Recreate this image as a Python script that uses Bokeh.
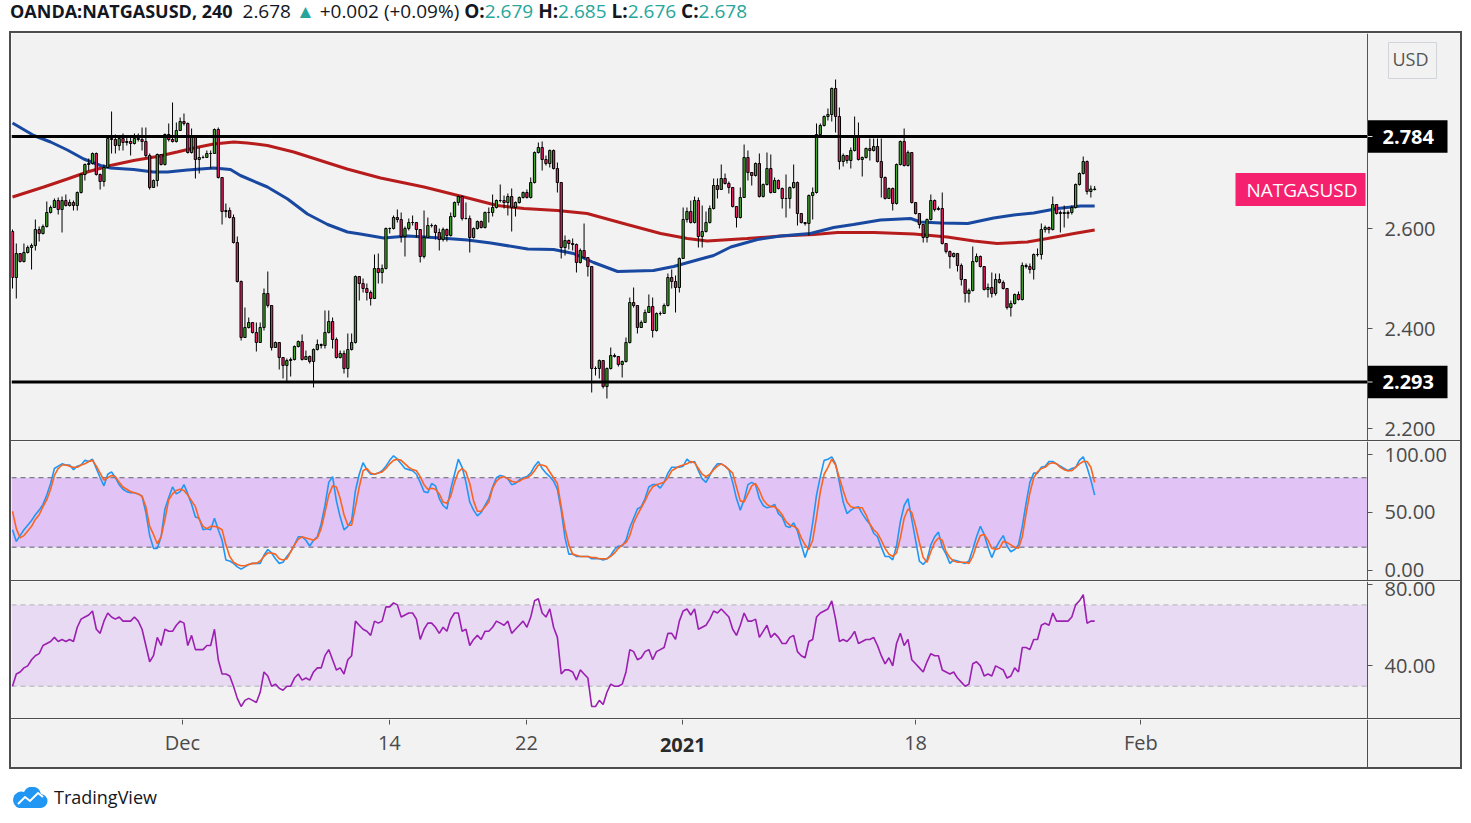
from bokeh.plotting import figure
from bokeh.models import (Range1d, FixedTicker, PrintfTickFormatter, BoxAnnotation, Span,
                          Label, Div, ColumnDataSource)
from bokeh.core.properties import value
from bokeh.layouts import column, row
from bokeh.embed import file_html
from bokeh.resources import INLINE

FONT = "Open Sans"
BG = "#f2f2f2"
BORDER = "#4d4d4d"
AXIS_TXT = "#4a4a4a"
UP_COLOR = "#43a72c"
DOWN_COLOR = "#e91e63"

# ---------------- data (4h bars, index 0 = first visible bar) ----------------
FIRST_OPEN = 2.594
CLOSE = [
    2.502, 2.550, 2.534, 2.552, 2.562, 2.566, 2.598, 2.590, 2.604, 2.632,
    2.642, 2.656, 2.638, 2.656, 2.646, 2.652, 2.646, 2.672, 2.708, 2.728,
    2.730, 2.750, 2.708, 2.694, 2.722, 2.780, 2.778, 2.766, 2.780, 2.772,
    2.774, 2.770, 2.780, 2.778, 2.774, 2.746, 2.682, 2.696, 2.748, 2.728,
    2.788, 2.778, 2.774, 2.796, 2.814, 2.810, 2.752, 2.782, 2.738, 2.742,
    2.742, 2.750, 2.750, 2.798, 2.702, 2.634, 2.636, 2.622, 2.572, 2.494,
    2.382, 2.402, 2.412, 2.392, 2.372, 2.402, 2.470, 2.446, 2.362, 2.372,
    2.342, 2.326, 2.336, 2.338, 2.364, 2.374, 2.338, 2.344, 2.334, 2.358,
    2.368, 2.366, 2.392, 2.414, 2.378, 2.342, 2.350, 2.320, 2.358, 2.372,
    2.504, 2.490, 2.480, 2.472, 2.460, 2.520, 2.512, 2.520, 2.600, 2.600,
    2.622, 2.618, 2.584, 2.600, 2.612, 2.612, 2.598, 2.544, 2.582, 2.606,
    2.606, 2.592, 2.578, 2.598, 2.586, 2.624, 2.652, 2.664, 2.620, 2.620,
    2.582, 2.600, 2.614, 2.602, 2.632, 2.632, 2.642, 2.656, 2.656, 2.652,
    2.664, 2.642, 2.652, 2.662, 2.672, 2.662, 2.692, 2.752, 2.762, 2.738,
    2.730, 2.756, 2.720, 2.692, 2.562, 2.576, 2.570, 2.568, 2.532, 2.556,
    2.542, 2.524, 2.320, 2.320, 2.336, 2.284, 2.320, 2.346, 2.344, 2.328,
    2.334, 2.372, 2.452, 2.446, 2.402, 2.412, 2.432, 2.444, 2.396, 2.430,
    2.430, 2.446, 2.502, 2.494, 2.482, 2.540, 2.618, 2.634, 2.612, 2.656,
    2.584, 2.594, 2.612, 2.640, 2.686, 2.678, 2.700, 2.690, 2.682, 2.644,
    2.622, 2.662, 2.742, 2.712, 2.706, 2.730, 2.664, 2.688, 2.720, 2.672,
    2.696, 2.680, 2.660, 2.660, 2.682, 2.692, 2.630, 2.612, 2.610, 2.666,
    2.672, 2.788, 2.806, 2.824, 2.828, 2.880, 2.824, 2.734, 2.746, 2.736,
    2.756, 2.782, 2.738, 2.742, 2.760, 2.756, 2.764, 2.734, 2.702, 2.660,
    2.680, 2.650, 2.728, 2.774, 2.726, 2.752, 2.652, 2.630, 2.608, 2.582,
    2.618, 2.656, 2.638, 2.640, 2.570, 2.554, 2.544, 2.550, 2.526, 2.498,
    2.470, 2.476, 2.534, 2.544, 2.524, 2.478, 2.482, 2.470, 2.498, 2.492,
    2.480, 2.442, 2.450, 2.468, 2.458, 2.526, 2.524, 2.518, 2.548, 2.548,
    2.598, 2.602, 2.598, 2.648, 2.630, 2.632, 2.630, 2.632, 2.642, 2.688,
    2.710, 2.734, 2.674, 2.679, 2.678,
]
HIGH = [
    2.598, 2.570, 2.550, 2.570, 2.566, 2.570, 2.618, 2.604, 2.608, 2.654,
    2.646, 2.660, 2.662, 2.664, 2.668, 2.658, 2.656, 2.674, 2.710, 2.730,
    2.740, 2.752, 2.752, 2.710, 2.728, 2.786, 2.834, 2.788, 2.786, 2.790,
    2.786, 2.784, 2.790, 2.790, 2.802, 2.802, 2.750, 2.698, 2.750, 2.748,
    2.790, 2.810, 2.852, 2.812, 2.822, 2.830, 2.812, 2.800, 2.782, 2.762,
    2.746, 2.756, 2.756, 2.800, 2.802, 2.702, 2.650, 2.642, 2.628, 2.584,
    2.496, 2.442, 2.422, 2.412, 2.412, 2.412, 2.480, 2.514, 2.446, 2.374,
    2.372, 2.342, 2.340, 2.342, 2.366, 2.376, 2.388, 2.356, 2.346, 2.360,
    2.378, 2.370, 2.436, 2.436, 2.422, 2.382, 2.356, 2.356, 2.390, 2.390,
    2.506, 2.504, 2.500, 2.490, 2.476, 2.548, 2.550, 2.528, 2.602, 2.602,
    2.626, 2.638, 2.632, 2.604, 2.620, 2.626, 2.612, 2.598, 2.636, 2.622,
    2.610, 2.608, 2.600, 2.602, 2.600, 2.632, 2.654, 2.666, 2.666, 2.652,
    2.626, 2.602, 2.616, 2.616, 2.634, 2.642, 2.668, 2.658, 2.688, 2.666,
    2.670, 2.680, 2.654, 2.664, 2.674, 2.678, 2.702, 2.754, 2.772, 2.774,
    2.746, 2.758, 2.758, 2.732, 2.692, 2.586, 2.578, 2.580, 2.570, 2.560,
    2.610, 2.542, 2.524, 2.324, 2.338, 2.336, 2.322, 2.362, 2.350, 2.344,
    2.336, 2.382, 2.462, 2.482, 2.446, 2.416, 2.438, 2.468, 2.462, 2.432,
    2.434, 2.450, 2.510, 2.518, 2.506, 2.542, 2.642, 2.642, 2.656, 2.664,
    2.662, 2.646, 2.634, 2.646, 2.700, 2.700, 2.728, 2.710, 2.694, 2.682,
    2.644, 2.682, 2.768, 2.756, 2.712, 2.732, 2.750, 2.690, 2.752, 2.748,
    2.702, 2.698, 2.682, 2.708, 2.684, 2.728, 2.694, 2.630, 2.612, 2.668,
    2.682, 2.810, 2.810, 2.826, 2.840, 2.882, 2.898, 2.842, 2.750, 2.746,
    2.762, 2.824, 2.812, 2.744, 2.762, 2.780, 2.780, 2.780, 2.780, 2.704,
    2.682, 2.682, 2.730, 2.776, 2.800, 2.756, 2.752, 2.652, 2.630, 2.608,
    2.620, 2.668, 2.658, 2.644, 2.672, 2.570, 2.556, 2.552, 2.550, 2.530,
    2.498, 2.480, 2.564, 2.550, 2.546, 2.524, 2.490, 2.512, 2.510, 2.510,
    2.496, 2.480, 2.456, 2.470, 2.474, 2.532, 2.530, 2.530, 2.550, 2.560,
    2.610, 2.606, 2.604, 2.664, 2.648, 2.636, 2.646, 2.636, 2.646, 2.690,
    2.712, 2.744, 2.736, 2.686, 2.685,
]
LOW = [
    2.480, 2.460, 2.532, 2.532, 2.550, 2.518, 2.556, 2.574, 2.588, 2.602,
    2.630, 2.642, 2.628, 2.592, 2.644, 2.644, 2.636, 2.636, 2.670, 2.696,
    2.716, 2.728, 2.706, 2.678, 2.684, 2.722, 2.750, 2.750, 2.756, 2.756,
    2.766, 2.746, 2.768, 2.774, 2.756, 2.742, 2.678, 2.682, 2.684, 2.726,
    2.726, 2.774, 2.772, 2.772, 2.796, 2.806, 2.750, 2.750, 2.700, 2.710,
    2.740, 2.742, 2.720, 2.750, 2.700, 2.608, 2.622, 2.620, 2.570, 2.492,
    2.376, 2.382, 2.400, 2.390, 2.354, 2.372, 2.396, 2.442, 2.356, 2.362,
    2.318, 2.300, 2.292, 2.304, 2.336, 2.362, 2.336, 2.338, 2.330, 2.282,
    2.356, 2.360, 2.360, 2.390, 2.360, 2.340, 2.340, 2.310, 2.302, 2.356,
    2.370, 2.456, 2.472, 2.456, 2.446, 2.460, 2.490, 2.490, 2.518, 2.590,
    2.598, 2.612, 2.572, 2.544, 2.596, 2.606, 2.582, 2.532, 2.540, 2.582,
    2.602, 2.578, 2.556, 2.574, 2.574, 2.584, 2.622, 2.646, 2.616, 2.618,
    2.552, 2.580, 2.598, 2.600, 2.600, 2.612, 2.624, 2.640, 2.652, 2.640,
    2.626, 2.594, 2.624, 2.650, 2.660, 2.660, 2.660, 2.690, 2.750, 2.716,
    2.726, 2.722, 2.718, 2.672, 2.540, 2.546, 2.558, 2.556, 2.512, 2.530,
    2.540, 2.504, 2.272, 2.306, 2.300, 2.280, 2.260, 2.318, 2.342, 2.324,
    2.302, 2.332, 2.370, 2.442, 2.390, 2.402, 2.412, 2.432, 2.382, 2.394,
    2.426, 2.430, 2.444, 2.480, 2.432, 2.472, 2.540, 2.612, 2.610, 2.610,
    2.562, 2.562, 2.592, 2.610, 2.638, 2.660, 2.678, 2.688, 2.670, 2.642,
    2.602, 2.620, 2.662, 2.696, 2.686, 2.704, 2.662, 2.662, 2.686, 2.670,
    2.672, 2.678, 2.640, 2.622, 2.640, 2.680, 2.606, 2.610, 2.606, 2.586,
    2.618, 2.670, 2.784, 2.804, 2.816, 2.814, 2.792, 2.718, 2.724, 2.730,
    2.720, 2.754, 2.736, 2.704, 2.740, 2.736, 2.754, 2.732, 2.662, 2.658,
    2.660, 2.636, 2.648, 2.726, 2.724, 2.724, 2.650, 2.628, 2.600, 2.572,
    2.572, 2.616, 2.634, 2.636, 2.568, 2.550, 2.520, 2.542, 2.514, 2.486,
    2.452, 2.452, 2.474, 2.532, 2.522, 2.476, 2.462, 2.462, 2.466, 2.490,
    2.478, 2.438, 2.424, 2.448, 2.456, 2.456, 2.520, 2.510, 2.498, 2.544,
    2.538, 2.592, 2.590, 2.596, 2.628, 2.592, 2.602, 2.620, 2.628, 2.640,
    2.686, 2.708, 2.668, 2.662, 2.676,
]

# moving averages (bar index, price)
MA_BLUE_X = [0, 5.6, 10, 14.4, 18.7, 23.1, 25.7, 31.8, 37, 40.7,
             45.9, 52.8, 57.2, 59.8, 66.9, 72.2, 77.4, 82.7, 87.9, 91.3,
             97.4, 103.7, 112.3, 119.4, 125.5, 135.2, 142, 147.2, 152.5, 158.8,
             168.2, 173.5, 180.6, 184, 188.5, 195.5, 201.6, 209.4, 215.5, 220.7,
             227.8, 235.7, 238.3, 243.6, 250.7, 257.5, 262.8, 268, 274.3, 280.3, 284]
MA_BLUE = [2.811, 2.786, 2.773, 2.757, 2.739, 2.726, 2.721, 2.718, 2.713, 2.713,
           2.717, 2.721, 2.718, 2.706, 2.683, 2.659, 2.629, 2.608, 2.593, 2.589,
           2.581, 2.585, 2.581, 2.577, 2.571, 2.559, 2.558, 2.550, 2.532, 2.514,
           2.516, 2.524, 2.539, 2.546, 2.563, 2.578, 2.585, 2.590, 2.602, 2.608,
           2.617, 2.620, 2.613, 2.611, 2.610, 2.621, 2.627, 2.631, 2.640, 2.645, 2.645]
MA_RED_X = [0, 8.2, 14.4, 19.6, 25.7, 31.8, 38, 43.2, 47.6, 52.8,
            58.1, 61.6, 66.9, 73.8, 80.8, 87.8, 96.6, 108, 118.5, 127.2,
            134.2, 143, 150.8, 161.3, 170.1, 177.1, 182.3, 192.8, 201.6, 210.3,
            216.5, 226.1, 236.6, 245.3, 252.3, 258.4, 266.3, 271.6, 278.6, 284]
MA_RED = [2.663, 2.683, 2.699, 2.713, 2.726, 2.736, 2.744, 2.753, 2.761, 2.769,
          2.773, 2.771, 2.766, 2.753, 2.736, 2.719, 2.701, 2.683, 2.663, 2.646,
          2.640, 2.636, 2.630, 2.608, 2.590, 2.580, 2.575, 2.580, 2.585, 2.588,
          2.592, 2.592, 2.589, 2.583, 2.575, 2.570, 2.573, 2.580, 2.590, 2.597]

LEVELS = [2.784, 2.293]
LAST_PRICE = 2.678
SYMBOL = "NATGASUSD"

STOCH_K = [
    35, 25, 30, 35, 39, 43, 48, 52, 57, 65,
    75, 88, 90, 92, 91, 91, 87, 90, 91, 95,
    94, 96, 88, 80, 73, 83, 85, 80, 74, 70,
    68, 67, 67, 66, 64, 50, 30, 19, 19, 29,
    53, 63, 72, 66, 68, 74, 66, 57, 46, 45,
    35, 36, 35, 45, 35, 26, 9, 8, 6, 3,
    1, 3, 5, 6, 6, 6, 13, 18, 15, 10,
    6, 7, 12, 16, 22, 29, 29, 26, 21, 26,
    29, 40, 56, 76, 81, 60, 46, 35, 38, 43,
    69, 83, 93, 87, 83, 83, 84, 86, 90, 95,
    99, 96, 92, 88, 87, 86, 83, 76, 68, 67,
    75, 73, 62, 56, 53, 70, 83, 96, 89, 76,
    59, 52, 47, 50, 56, 62, 72, 80, 82, 81,
    79, 74, 75, 78, 80, 81, 84, 90, 94, 88,
    84, 81, 77, 70, 52, 28, 14, 14, 12, 12,
    12, 12, 10, 10, 10, 9, 10, 13, 18, 21,
    21, 26, 37, 45, 53, 55, 62, 72, 74, 74,
    71, 76, 84, 89, 89, 89, 90, 96, 93, 94,
    86, 79, 76, 82, 88, 92, 92, 90, 87, 76,
    62, 52, 61, 74, 76, 74, 62, 56, 54, 55,
    57, 49, 46, 38, 37, 41, 34, 22, 11, 21,
    41, 65, 81, 95, 96, 98, 92, 76, 59, 49,
    52, 54, 55, 49, 44, 40, 32, 29, 20, 12,
    12, 9, 21, 42, 56, 62, 44, 26, 8, 5,
    9, 22, 29, 33, 20, 14, 6, 9, 8, 7,
    6, 8, 18, 29, 38, 31, 20, 11, 19, 25,
    30, 21, 16, 18, 22, 38, 58, 76, 84, 84,
    89, 90, 94, 94, 92, 90, 88, 86, 88, 89,
    95, 98, 89, 78, 65,
]
STOCH_D = [
    51, 36, 28, 30, 34, 38, 44, 48, 55, 61,
    70, 82, 88, 91, 91, 90, 89, 89, 91, 92,
    94, 95, 90, 84, 78, 80, 82, 81, 76, 72,
    70, 68, 67, 66, 64, 55, 38, 31, 23, 29,
    44, 61, 66, 69, 70, 69, 65, 60, 55, 44,
    38, 36, 38, 38, 37, 35, 22, 12, 7, 5,
    4, 4, 5, 6, 6, 8, 12, 15, 15, 14,
    10, 9, 10, 16, 22, 27, 29, 28, 27, 26,
    28, 36, 50, 65, 73, 72, 62, 48, 39, 39,
    55, 72, 86, 88, 84, 83, 84, 85, 88, 92,
    95, 96, 95, 92, 89, 87, 86, 81, 74, 70,
    71, 70, 66, 59, 58, 64, 76, 85, 88, 85,
    75, 60, 51, 51, 55, 59, 71, 77, 80, 81,
    79, 77, 76, 77, 79, 80, 82, 86, 91, 91,
    90, 85, 80, 75, 55, 36, 22, 14, 13, 12,
    12, 12, 11, 11, 10, 10, 10, 12, 15, 19,
    22, 24, 30, 41, 48, 54, 60, 67, 72, 74,
    75, 76, 80, 86, 88, 90, 91, 92, 94, 93,
    88, 83, 81, 83, 87, 90, 92, 90, 87, 84,
    72, 60, 59, 66, 73, 75, 69, 61, 57, 55,
    55, 52, 48, 42, 39, 38, 36, 28, 22, 18,
    26, 46, 68, 83, 89, 96, 91, 80, 69, 59,
    55, 54, 54, 54, 48, 40, 35, 32, 26, 19,
    14, 12, 15, 28, 45, 53, 50, 38, 24, 11,
    7, 16, 24, 28, 26, 16, 11, 8, 7, 7,
    7, 6, 12, 22, 30, 31, 26, 19, 18, 19,
    25, 24, 22, 20, 19, 29, 49, 67, 80, 85,
    88, 89, 92, 93, 92, 89, 87, 86, 86, 89,
    92, 94, 94, 89, 76,
]
RSI = [
    30, 36, 37, 39, 40, 43, 45, 46, 50, 51,
    52, 54, 52, 53, 52, 53, 52, 59, 63, 64,
    65, 67, 58, 56, 62, 66, 64, 63, 64, 62,
    62, 62, 64, 62, 58, 50, 42, 45, 54, 50,
    58, 57, 57, 60, 62, 61, 50, 55, 48, 48,
    48, 50, 50, 58, 43, 36, 36, 35, 30, 24,
    20, 23, 24, 23, 22, 27, 37, 35, 30, 31,
    29, 28, 30, 30, 34, 36, 33, 34, 33, 37,
    39, 39, 45, 48, 43, 38, 39, 36, 43, 45,
    62, 60, 58, 57, 55, 62, 61, 62, 69, 69,
    71, 70, 64, 65, 66, 66, 63, 53, 58, 61,
    61, 59, 56, 59, 57, 63, 66, 66, 57, 58,
    50, 53, 55, 53, 57, 57, 59, 62, 61, 60,
    62, 56, 58, 60, 62, 59, 64, 72, 73, 66,
    64, 68, 59, 54, 36, 38, 38, 37, 33, 38,
    36, 34, 20, 20, 23, 21, 27, 31, 30, 30,
    31, 37, 48, 47, 43, 44, 47, 48, 43, 47,
    48, 49, 56, 56, 53, 62, 67, 68, 65, 68,
    58, 59, 60, 63, 67, 66, 68, 66, 64, 58,
    55, 60, 66, 62, 62, 63, 54, 57, 60, 54,
    56, 54, 51, 51, 54, 55, 47, 45, 44, 52,
    53, 64, 66, 67, 68, 72, 63, 52, 53, 52,
    54, 57, 51, 52, 53, 53, 54, 50, 45, 41,
    44, 40, 51, 56, 50, 53, 43, 41, 39, 37,
    42, 46, 45, 45, 38, 37, 36, 37, 34, 32,
    30, 31, 41, 42, 40, 35, 36, 35, 40, 39,
    38, 34, 35, 39, 37, 49, 49, 48, 53, 53,
    60, 61, 60, 66, 62, 62, 62, 62, 64, 70,
    72, 75, 61, 62, 62,
]

PRICE_TICKS = [2.2, 2.4, 2.6]
STOCH_TICKS = [0, 50, 100]
STOCH_BAND = [20, 80]
RSI_TICKS = [40, 80]
RSI_BAND = [30, 70]
TIME_TICK_POS = [44.6, 98.9, 134.9, 175.9, 237.0, 296.1]
TIME_TICK_LABELS = ["Dec", "14", "22", "2021", "18", "Feb"]

# ---------------- build ----------------
N = len(CLOSE)
BAR = list(range(N))
OPEN = [FIRST_OPEN] + CLOSE[:-1]
src = ColumnDataSource(dict(
    x=BAR, high=HIGH, low=LOW,
    top=[max(o, c) for o, c in zip(OPEN, CLOSE)],
    bottom=[min(o, c) for o, c in zip(OPEN, CLOSE)],
    color=[UP_COLOR if c >= o else DOWN_COLOR for o, c in zip(OPEN, CLOSE)],
))

W_IN = 1449             # inner width of the bordered box (px)
PX_PER_BAR = 3.8105     # horizontal scale
X0 = -0.262
X1 = X0 + W_IN / PX_PER_BAR
DIVIDER = 355.6         # bar position where the price-scale column begins
PX_PER_PRICE = 500.0    # vertical scale of the price panel (for tag sizes)
x_range = Range1d(X0, X1)


def panel(height, y_range):
    p = figure(width=W_IN, height=height, x_range=x_range, y_range=y_range,
               output_backend="svg", toolbar_location=None,
               x_axis_location=None, y_axis_location="right",
               min_border_left=0, min_border_right=0,
               min_border_top=0, min_border_bottom=0,
               background_fill_color=BG, border_fill_color=BG,
               outline_line_color=None)
    p.xgrid.visible = False
    p.ygrid.visible = False
    ax = p.yaxis[0]
    ax.fixed_location = DIVIDER
    ax.axis_line_color = "#555555"
    ax.major_tick_line_color = "#555555"
    ax.major_tick_in = 0
    ax.major_tick_out = 5
    ax.minor_tick_line_color = None
    ax.major_label_text_font = FONT
    ax.major_label_text_font_size = "20px"
    ax.major_label_text_color = AXIS_TXT
    ax.major_label_standoff = 12
    return p


# main price panel
pm = panel(407, Range1d(2.176, 2.990))
pm.yaxis[0].ticker = FixedTicker(ticks=PRICE_TICKS)
pm.yaxis[0].formatter = PrintfTickFormatter(format="%.3f")
pm.line(MA_RED_X, MA_RED, line_color="#b71c1c", line_width=3)
pm.line(MA_BLUE_X, MA_BLUE, line_color="#1848a0", line_width=3)
pm.segment(x0="x", y0="high", x1="x", y1="low", source=src, line_color="black", line_width=1)
pm.vbar(x="x", width=0.6, top="top", bottom="bottom", fill_color="color",
        line_color="black", line_width=1, source=src)
nl = len(LEVELS)
pm.segment(x0=[X0] * nl, x1=[DIVIDER] * nl, y0=LEVELS, y1=LEVELS,
           line_color="black", line_width=3)

# price tags of the two horizontal levels on the price scale
tag_h = 16.3 / PX_PER_PRICE
pm.quad(left=[DIVIDER] * nl, right=[DIVIDER + 80 / PX_PER_BAR] * nl,
        bottom=[lv - tag_h for lv in LEVELS], top=[lv + tag_h for lv in LEVELS],
        fill_color="black", line_color=None)
pm.segment(x0=[DIVIDER] * nl, x1=[DIVIDER + 5 / PX_PER_BAR] * nl, y0=LEVELS, y1=LEVELS,
           line_color="#dddddd", line_width=1)
pm.text(x=[DIVIDER + 15 / PX_PER_BAR] * nl, y=LEVELS, text=[f"{lv:.3f}" for lv in LEVELS],
        text_font=value(FONT), text_font_size="20px", text_font_style="bold",
        text_color="white", text_align="left", text_baseline="middle")

# symbol tag at the last price
sym_right = DIVIDER - 2 / PX_PER_BAR
sym_h = 16.5 / PX_PER_PRICE
pm.quad(left=[sym_right - 130 / PX_PER_BAR], right=[sym_right],
        bottom=[LAST_PRICE - sym_h], top=[LAST_PRICE + sym_h],
        fill_color="#f5216e", line_color=None)
pm.text(x=[sym_right - 8 / PX_PER_BAR], y=[LAST_PRICE], text=[SYMBOL],
        text_font=value(FONT), text_font_size="19px", text_color="white",
        text_align="right", text_baseline="middle")

pm.add_layout(Label(x=1377, y=380, x_units="screen", y_units="screen", text="USD",
                    text_font=FONT, text_font_size="18px", text_color="#555555",
                    text_align="left", text_baseline="middle",
                    background_fill_color=BG, border_line_color="#d1d4dc",
                    border_line_width=1, padding=(4, 8, 4, 8)))

# stochastic RSI panel
ps = panel(139, Range1d(-8.8, 111.3))
ps.yaxis[0].ticker = FixedTicker(ticks=STOCH_TICKS)
ps.yaxis[0].formatter = PrintfTickFormatter(format="%.2f")
ps.add_layout(BoxAnnotation(right=DIVIDER, bottom=STOCH_BAND[0], top=STOCH_BAND[1],
                            fill_color="#e1c4f5", fill_alpha=1.0, line_color=None,
                            level="underlay"))
ps.segment(x0=[X0] * 2, x1=[DIVIDER] * 2, y0=STOCH_BAND, y1=STOCH_BAND,
           line_color="#5f5f6a", line_width=1, line_dash="5 4")
ps.line(BAR, STOCH_K, line_color="#2196f3", line_width=1.6)
ps.line(BAR, STOCH_D, line_color="#fb6420", line_width=1.6)

# RSI panel
pr = panel(137, Range1d(14.1, 81.5))
pr.yaxis[0].ticker = FixedTicker(ticks=RSI_TICKS)
pr.yaxis[0].formatter = PrintfTickFormatter(format="%.2f")
pr.add_layout(BoxAnnotation(right=DIVIDER, bottom=RSI_BAND[0], top=RSI_BAND[1],
                            fill_color="#e8daf3", fill_alpha=1.0, line_color=None,
                            level="underlay"))
pr.segment(x0=[X0] * 2, x1=[DIVIDER] * 2, y0=RSI_BAND, y1=RSI_BAND,
           line_color="#b0b0b8", line_width=1, line_dash="5 4")
pr.line(BAR, RSI, line_color="#9b1fb0", line_width=1.6)

# time axis row
TIME_H = 48
pt = figure(width=W_IN, height=TIME_H, x_range=x_range, y_range=Range1d(0, 1),
            output_backend="svg", toolbar_location=None,
            x_axis_location="below", y_axis_location=None,
            min_border_left=0, min_border_right=0, min_border_top=0, min_border_bottom=0,
            background_fill_color=BG, border_fill_color=BG, outline_line_color=None)
pt.xgrid.visible = False
pt.ygrid.visible = False
xa = pt.xaxis[0]
xa.fixed_location = 1
xa.ticker = FixedTicker(ticks=TIME_TICK_POS)
xa.major_label_overrides = {pos: ("" if lab == "2021" else lab)
                            for pos, lab in zip(TIME_TICK_POS, TIME_TICK_LABELS)}
xa.axis_line_color = None
xa.major_tick_line_color = "#555555"
xa.major_tick_in = 0
xa.major_tick_out = 5
xa.minor_tick_line_color = None
xa.major_label_text_font = FONT
xa.major_label_text_font_size = "20px"
xa.major_label_text_color = AXIS_TXT
xa.major_label_standoff = 4
pt.add_layout(Span(location=DIVIDER, dimension="height", line_color=BORDER, line_width=1))
for pos, lab in zip(TIME_TICK_POS, TIME_TICK_LABELS):
    if lab == "2021":
        pt.add_layout(Label(x=pos, y=TIME_H - 25, x_units="data", y_units="screen", text=lab,
                            text_font=FONT, text_font_size="20px", text_font_style="bold",
                            text_color="#2a2a2a", text_align="center", text_baseline="middle"))


def block(w, h, color):
    return Div(width=w, height=h, margin=0, styles={"background-color": color})


inner = column(pm, block(W_IN, 1, BORDER), ps, block(W_IN, 1, BORDER), pr,
               block(W_IN, 1, BORDER), pt)
INNER_H = 407 + 1 + 139 + 1 + 137 + 1 + TIME_H
mid = row(block(2, INNER_H, BORDER), inner, block(2, INNER_H, BORDER))
BOX_W = W_IN + 4
box = column(block(BOX_W, 2, BORDER), mid, block(BOX_W, 2, BORDER))

teal = "#26a69a"
header_html = (
    f'<div style="font-family:\'{FONT}\'; font-size:19px; line-height:18px; color:#131722; '
    'white-space:nowrap; padding-top:2px; padding-left:1px;">'
    '<b style="font-size:18px">OANDA:NATGASUSD, 240</b>&nbsp;&nbsp;2.678 '
    f'<span style="color:{teal}">&#9650;</span> +0.002 (+0.09%) '
    f'<b>O:</b><span style="color:{teal}">2.679</span> '
    f'<b>H:</b><span style="color:{teal}">2.685</span> '
    f'<b>L:</b><span style="color:{teal}">2.676</span> '
    f'<b>C:</b><span style="color:{teal}">2.678</span>'
    '</div>'
)
HEADER_H = 31
header = Div(text=header_html, width=BOX_W, height=HEADER_H, margin=0)

footer_html = (
    f'<div style="display:flex; align-items:center; padding-top:16px; padding-left:3px; '
    f'font-family:\'{FONT}\'; font-size:18px; color:#131722;">'
    '<svg width="36" height="22" viewBox="0 0 36 22" style="margin-right:6px">'
    '<path d="M7 21 H28 A7 7 0 0 0 29 7 A9 9 0 0 0 12 5 A7 7 0 0 0 7 21 Z" fill="#2196f3"/>'
    '<polyline points="6,17 13,10 18,14 26,6 31,10" fill="none" stroke="white" stroke-width="2"/>'
    '</svg><span>TradingView</span></div>'
)
FOOTER_H = 40
footer = Div(text=footer_html, width=BOX_W, height=FOOTER_H, margin=0)

main_col = column(header, box, footer)
TOTAL_H = HEADER_H + INNER_H + 4 + FOOTER_H
layout = row(block(9, TOTAL_H, "white"), main_col)

open("out.html", "w").write(file_html(layout, INLINE))
